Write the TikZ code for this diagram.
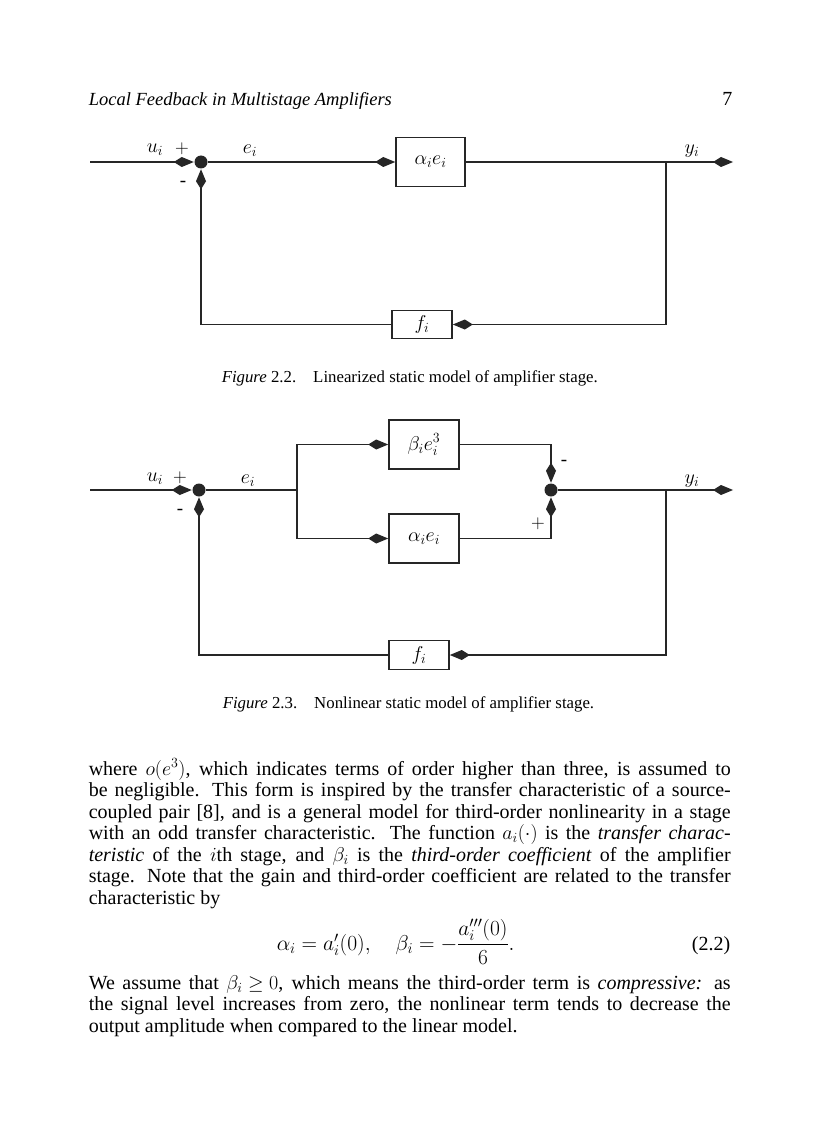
\RequirePackage{fix-cm}
\documentclass[tikz,border=0pt]{standalone}
\usepackage{fontspec}
\setmainfont{Liberation Serif}
\usetikzlibrary{arrows.meta}
\begin{document}
\begin{tikzpicture}[x=1pt,y=-1pt,
  line width=1.5pt, draw=black!85,
  >={Kite[length=20pt,width=10pt,inset=8pt]},
  blk/.style={draw, line width=1.6pt, inner sep=0pt, font=\fontsize{20}{24}\selectfont},
  jdot/.style={circle, fill=black!85, draw=none, minimum size=13pt, inner sep=0pt},
  lbl/.style={font=\fontsize{20}{24}\selectfont, inner sep=0pt},
  sgn/.style={font=\fontsize{19}{20}\selectfont, inner sep=0pt},
  bline/.style={anchor=base west, inner sep=0pt, font=\fontsize{20}{22}\selectfont},
  capt/.style={anchor=base west, inner sep=0pt, font=\fontsize{16.8}{19}\selectfont}]
\useasboundingbox (0,0) rectangle (816,1123);
\fill[white] (0,0) rectangle (816,1123);

% header
\node[anchor=base west, inner sep=0pt, font=\fontsize{18.5}{21}\selectfont] (hd) at (88,106) {\textit{Local Feedback in Multistage Amplifiers}};
\node[anchor=base east, inner sep=0pt, font=\fontsize{20}{21}\selectfont] (pg) at (733,106) {7};

% ---------- Figure 2.2 ----------
\coordinate (in1) at (90,162);
\node[jdot] (J1) at (201,162) {};
\node[blk, minimum width=69pt, minimum height=49pt] (A1) at (430.5,162) {$\alpha_i e_i$};
\node[blk, minimum width=60pt, minimum height=28pt] (F1) at (422,324.5) {$f_i$};
\coordinate (br1) at (666,162);
\coordinate (out1) at (733,162);
\draw[->] (in1) -- (J1);
\draw[->] (J1) -- (A1);
\draw[->] (A1) -- (out1);
\draw[->] (br1) |- (F1);
\draw[->] (F1) -| (J1);
\node[lbl] (u1) at (155,150) {$u_i$};
\node[sgn] (p1) at (182,149) {$+$};
\node[sgn] (m1) at (183,184) {-};
\node[lbl] (e1) at (250,151) {$e_i$};
\node[lbl] (y1) at (692,151) {$y_i$};
\node[capt] (c1) at (221,382) {\textit{Figure} 2.2.\hspace{17pt}Linearized static model of amplifier stage.};

% ---------- Figure 2.3 ----------
\coordinate (in2) at (90,490);
\node[jdot] (J2) at (199,490) {};
\coordinate (sp2) at (297,490);
\node[blk, minimum width=70pt, minimum height=49pt] (B2) at (424,444.5) {$\beta_i e_i^3$};
\node[blk, minimum width=70pt, minimum height=49pt] (A2) at (424,538.5) {$\alpha_i e_i$};
\node[jdot] (K2) at (551,490) {};
\coordinate (br2) at (666,490);
\coordinate (out2) at (733,490);
\node[blk, minimum width=60pt, minimum height=29pt] (F2) at (419,655) {$f_i$};
\draw[->] (in2) -- (J2);
\draw (J2) -- (sp2);
\draw[->] (sp2) |- (B2);
\draw[->] (sp2) |- (A2);
\draw[->] (B2) -| (K2);
\draw[->] (A2) -| (K2);
\draw[->] (K2) -- (out2);
\draw[->] (br2) |- (F2);
\draw[->] (F2) -| (J2);
\node[lbl] (u2) at (155,479) {$u_i$};
\node[sgn] (p2) at (180,478) {$+$};
\node[sgn] (m2) at (180,512) {-};
\node[lbl] (e2) at (248,481) {$e_i$};
\node[lbl] (y2) at (692,481) {$y_i$};
\node[sgn] (m3) at (564,463) {-};
\node[sgn] (p3) at (538,524) {$+$};
\node[capt] (c2) at (222,708) {\textit{Figure} 2.3.\hspace{17pt}Nonlinear static model of amplifier stage.};

% ---------- body text ----------
\node[bline] (l1) at (88,775) {\makebox[642pt][s]{where \mbox{$o(e^3)$}, which indicates terms of order higher than three, is assumed to}};
\node[bline] (l2) at (88,796.5) {\makebox[642pt][s]{be negligible.  This form is inspired by the transfer characteristic of a source-}};
\node[bline] (l3) at (88,818) {\makebox[642pt][s]{coupled pair [8], and is a general model for third-order nonlinearity in a stage}};
\node[bline] (l4) at (88,839.5) {\makebox[642pt][s]{with an odd transfer characteristic.  The function \mbox{$a_i(\cdot)$} is the \textit{transfer charac-}}};
\node[bline] (l5) at (88,861) {\makebox[642pt][s]{\textit{teristic} of the \mbox{$i$th} stage, and \mbox{$\beta_i$} is the \textit{third-order coefficient} of the amplifier}};
\node[bline] (l6) at (88,882.5) {\makebox[642pt][s]{stage.  Note that the gain and third-order coefficient are related to the transfer}};
\node[bline] (l7) at (88,904) {characteristic by};
\node[anchor=base west, inner sep=0pt, font=\fontsize{21.5}{22}\selectfont] (eq) at (276,950) {$\alpha_i = a_i'(0),\quad \beta_i = -{\displaystyle\frac{a_i'''(0)}{6}}.$};
\node[anchor=base east, inner sep=0pt, font=\fontsize{20}{22}\selectfont] (eqn) at (731,950) {(2.2)};
\node[bline] (m1l) at (88,989) {\makebox[642pt][s]{We assume that \mbox{$\beta_i \ge 0$}, which means the third-order term is \textit{compressive:}  as}};
\node[bline] (m2l) at (88,1010.5) {\makebox[642pt][s]{the signal level increases from zero, the nonlinear term tends to decrease the}};
\node[bline] (m3l) at (88,1032) {output amplitude when compared to the linear model.};
\end{tikzpicture}
\end{document}
